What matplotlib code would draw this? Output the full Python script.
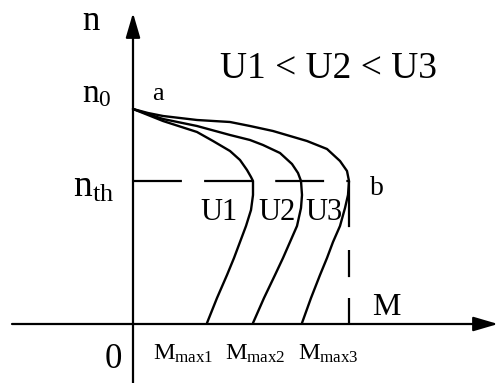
import numpy as np
import matplotlib.pyplot as plt

plt.rcParams['font.family'] = 'Liberation Serif'
plt.rcParams['mathtext.fontset'] = 'custom'
plt.rcParams['mathtext.rm'] = 'Liberation Serif'
plt.rcParams['mathtext.it'] = 'Liberation Serif'

# characteristic levels (arbitrary units)
n0 = 215
n_th = 143
M_max = [120, 168, 216]

# mechanical characteristics n(M) for three supply voltages
M_U1 = [0, 30, 64, 80, 97, 107, 114, 118, 120, 120, 118, 113, 107, 101, 94, 84, 74]
n_U1 = [215, 203, 192, 183, 173, 164, 154, 147, 143, 129, 114, 98, 82, 66, 49, 26, 1]
M_U2 = [0, 30, 64, 97, 117, 130, 147, 159, 165, 168, 169, 168, 164, 157, 150, 142, 131, 120]
n_U2 = [215, 205, 198, 189, 184, 179, 171, 160, 151, 143, 129, 116, 98, 82, 66, 49, 26, 1]
M_U3 = [0, 15, 30, 47, 64, 97, 117, 140, 174, 194, 207, 214, 216, 215, 212, 207, 200, 194, 187, 178, 169]
n_U3 = [215, 211, 208, 206, 204, 202, 198, 193, 183, 175, 163, 153, 143, 129, 116, 98, 82, 66, 49, 26, 1]

curves = [(M_U1, n_U1), (M_U2, n_U2), (M_U3, n_U3)]
curve_labels = ['U1', 'U2', 'U3']
curve_label_x = [67, 125, 172]
torque_labels = [r'$\mathrm{M_{max1}}$', r'$\mathrm{M_{max2}}$', r'$\mathrm{M_{max3}}$']
torque_label_x = [20, 92, 165]

fig = plt.figure(figsize=(4.98, 3.83), dpi=100)
ax = fig.add_axes([0, 0, 1, 1])
ax.set_xlim(-133, 365)
ax.set_ylim(-59, 324)
ax.axis('off')

# axes with arrow heads
arrow = dict(arrowstyle='-|>,head_length=0.75,head_width=0.22', lw=1.6,
             color='black', shrinkA=0, shrinkB=0, mutation_scale=20)
ax.annotate('', xy=(0, 311), xytext=(0, -59), arrowprops=arrow)
ax.annotate('', xy=(365, 0), xytext=(-121, 0), arrowprops=arrow)

# n_th level and the M_max3 drop line
ax.plot([0, M_max[2]], [n_th, n_th], color='black', lw=1.6,
        linestyle=(0, (22, 10)))
ax.plot([M_max[2], M_max[2]], [0, n_th], color='black', lw=1.6,
        linestyle=(0, (11.7, 9.4, 12.2, 10.3, 30)))

for (M, n) in curves:
    ax.plot(M, n, color='black', lw=1.7, solid_joinstyle='round',
            solid_capstyle='round')

txt = dict(color='black', ha='left', va='baseline')
ax.text(-51, 294, 'n', fontsize=25, **txt)
ax.text(-51, 222, r'$\mathrm{n_0}$', fontsize=24, **txt)
ax.text(-60, 127, r'$\mathrm{n_{th}}$', fontsize=27, **txt)
ax.text(19, 224, 'a', fontsize=19, **txt)
ax.text(237, 129, 'b', fontsize=20, **txt)
ax.text(87, 246, 'U1 < U2 < U3', fontsize=27, **txt)
for lab, x in zip(curve_labels, curve_label_x):
    ax.text(x, 104, lab, fontsize=22, **txt)
ax.text(239, 9, 'M', fontsize=23, **txt)
ax.text(-28, -44, '0', fontsize=25, **txt)
for lab, x in zip(torque_labels, torque_label_x):
    ax.text(x, -36, lab, fontsize=17.5, **txt)

fig.savefig('out.png', dpi=100)
